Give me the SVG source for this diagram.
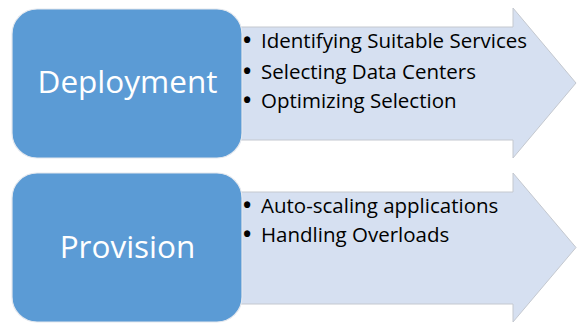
<svg xmlns="http://www.w3.org/2000/svg" width="577" height="323" viewBox="0 0 577 323">
<style>
.arrow{fill:#d6e0f1;stroke:#c4c8cf;stroke-width:1}
.box{fill:#5b9bd5;stroke:#e4e8ee;stroke-width:1.2}
.title{font-family:"Open Sans","Liberation Sans",sans-serif;font-size:31.5px;fill:#ffffff;text-anchor:middle}
.item{font-family:"Open Sans","Liberation Sans",sans-serif;font-size:20.5px;fill:#000000}
.bullet{font-family:"Open Sans","Liberation Sans",sans-serif;font-size:22px;font-weight:bold;fill:#000000}
</style>
<rect width="577" height="323" fill="#ffffff"/>
<g id="connectors">
<polygon class="arrow" points="230,27 513,27 513,8 576,83 513,158 513,140 230,140"/>
<polygon class="arrow" points="230,192 513,192 513,173 576,247.5 513,322 513,304 230,304"/>
</g>
<g id="deployment">
<rect class="box" x="12" y="9" width="230" height="149" rx="25" ry="25"/>
<text class="title" x="127.5" y="93">Deployment</text>
</g>
<g id="deployment-items">
<text class="bullet" x="243" y="48">•</text><text class="item" x="261" y="48">Identifying Suitable Services</text>
<text class="bullet" x="243" y="78.5">•</text><text class="item" x="261" y="78.5">Selecting Data Centers</text>
<text class="bullet" x="243" y="108">•</text><text class="item" x="261" y="108">Optimizing Selection</text>
</g>
<g id="provision">
<rect class="box" x="12" y="173" width="230" height="149" rx="25" ry="25"/>
<text class="title" x="127.5" y="258">Provision</text>
</g>
<g id="provision-items">
<text class="bullet" x="243" y="212.5">•</text><text class="item" x="261" y="212.5">Auto-scaling applications</text>
<text class="bullet" x="243" y="242">•</text><text class="item" x="261" y="242">Handling Overloads</text>
</g>
</svg>
